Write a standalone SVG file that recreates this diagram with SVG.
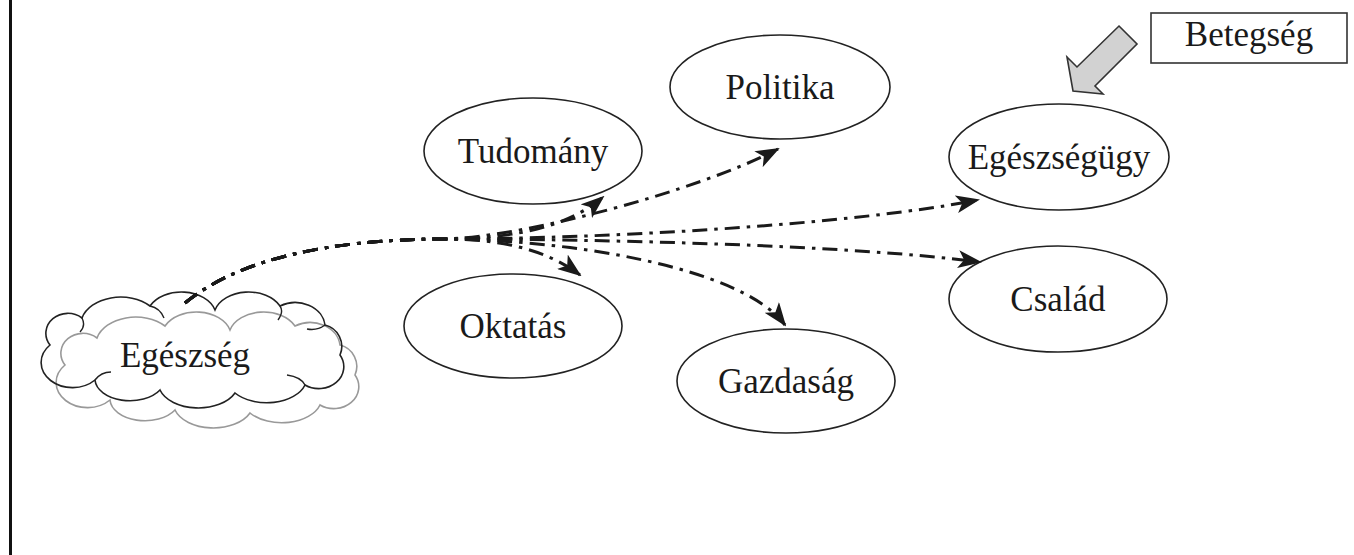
<svg xmlns="http://www.w3.org/2000/svg" width="1354" height="555" viewBox="0 0 1354 555">
<style>
.node ellipse{fill:#fff;stroke:#222;stroke-width:1.6}
.lbl{font-family:"Liberation Serif","Times New Roman",serif;font-size:35px;fill:#1a1a1a;text-anchor:middle}
.conn path{fill:none;stroke:#1a1a1a;stroke-width:3;stroke-dasharray:15 7 3.5 7;marker-end:url(#ah)}
</style>
<defs>
<marker id="ah" viewBox="0 0 24 18" refX="22" refY="9" markerWidth="24" markerHeight="18" markerUnits="userSpaceOnUse" orient="auto">
<path d="M0,0 L24,9 L0,18 L6,9 Z" fill="#1a1a1a"/>
</marker>
</defs>
<rect width="1354" height="555" fill="#fff"/>
<line x1="10.5" y1="0" x2="10.5" y2="555" stroke="#111" stroke-width="3"/>

<g id="cloud-egeszseg">
<path transform="translate(15,20)" fill="none" stroke="#999" stroke-width="1.6" d="M50,345 A22,20 0 0 1 82,318 A40,28 0 0 1 150,306 A35,25 0 0 1 215,310 A35,25 0 0 1 280,306 A30,25 0 0 1 325,325 A22,22 0 0 1 340,355 A25,22 0 0 1 305,385 A40,25 0 0 1 235,393 A40,25 0 0 1 160,390 A35,22 0 0 1 95,380 A25,20 0 0 1 50,345 Z"/>
<path fill="none" stroke="#222" stroke-width="1.6" d="M50,345 A22,20 0 0 1 82,318 A40,28 0 0 1 150,306 A35,25 0 0 1 215,310 A35,25 0 0 1 280,306 A30,25 0 0 1 325,325 A22,22 0 0 1 340,355 A25,22 0 0 1 305,385 A40,25 0 0 1 235,393 A40,25 0 0 1 160,390 A35,22 0 0 1 95,380 A25,20 0 0 1 50,345 Z"/>
<path fill="none" stroke="#222" stroke-width="1.4" d="M82,318 q4,8 -2,14 M150,306 q10,2 14,12 M280,306 q4,6 -2,14 M325,325 q-8,6 -18,4 M95,380 q6,-8 16,-8 M305,385 q-4,-8 -18,-10"/>
<text class="lbl" x="185" y="367">Egészség</text>
</g>

<g id="node-tudomany" class="node"><ellipse cx="533" cy="151" rx="109" ry="53"/><text class="lbl" x="533" y="163">Tudomány</text></g>
<g id="node-politika" class="node"><ellipse cx="780" cy="87" rx="110" ry="52"/><text class="lbl" x="780" y="99">Politika</text></g>
<g id="node-egeszsegugy" class="node"><ellipse cx="1059" cy="157" rx="110" ry="53"/><text class="lbl" x="1059" y="169">Egészségügy</text></g>
<g id="node-oktatas" class="node"><ellipse cx="513" cy="326" rx="109" ry="52"/><text class="lbl" x="513" y="338">Oktatás</text></g>
<g id="node-gazdasag" class="node"><ellipse cx="786" cy="381" rx="109" ry="52"/><text class="lbl" x="786" y="393">Gazdaság</text></g>
<g id="node-csalad" class="node"><ellipse cx="1058" cy="299" rx="109" ry="53"/><text class="lbl" x="1058" y="311">Család</text></g>

<g id="node-betegseg">
<rect x="1151" y="13" width="196" height="50" fill="#fff" stroke="#333" stroke-width="1.6"/>
<text class="lbl" x="1249" y="46">Betegség</text>
</g>
<g id="arrow-betegseg">
<polygon points="1119,26 1137,44 1095,86 1103,94 1073,91 1067,57 1077,67" fill="#d2d2d2" stroke="#333" stroke-width="1.6" stroke-linejoin="miter"/>
</g>

<g id="connectors" class="conn">
<path d="M185,303 C240,258 330,240 440,239 C520,239 570,225 603,197"/>
<path d="M185,303 C240,258 330,240 440,239 C520,239 700,190 778,149"/>
<path d="M185,303 C240,258 330,240 440,239 C600,239 850,225 978,200"/>
<path d="M185,303 C240,258 330,240 440,239 C600,239 850,245 980,262"/>
<path d="M185,303 C240,258 330,240 440,239 C490,239 540,245 580,275"/>
<path d="M185,303 C240,258 330,240 440,239 C560,239 740,265 785,325"/>
</g>
</svg>
